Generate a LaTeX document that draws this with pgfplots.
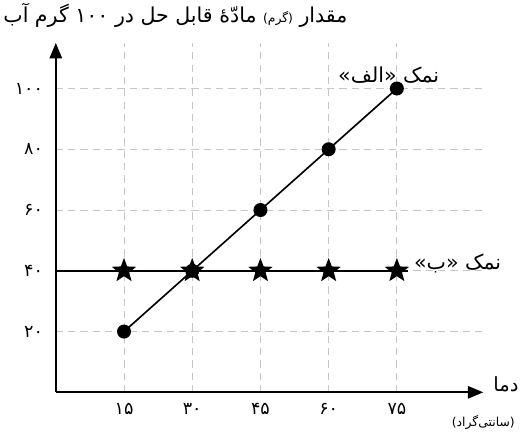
\documentclass[border=0pt]{standalone}
\usepackage{pgfplots}
\pgfplotsset{compat=1.18}
\usepackage{fontspec}
\usetikzlibrary{arrows.meta}
\TeXXeTstate=1
\newfontfamily\fa[Script=Arabic]{DejaVu Sans}

\pgfdeclareplotmark{fstar}{%
  \pgfpathmoveto{\pgfqpointpolar{90}{\pgfplotmarksize}}%
  \pgfpathlineto{\pgfqpointpolar{126}{0.42\pgfplotmarksize}}%
  \pgfpathlineto{\pgfqpointpolar{162}{\pgfplotmarksize}}%
  \pgfpathlineto{\pgfqpointpolar{198}{0.42\pgfplotmarksize}}%
  \pgfpathlineto{\pgfqpointpolar{234}{\pgfplotmarksize}}%
  \pgfpathlineto{\pgfqpointpolar{270}{0.42\pgfplotmarksize}}%
  \pgfpathlineto{\pgfqpointpolar{306}{\pgfplotmarksize}}%
  \pgfpathlineto{\pgfqpointpolar{342}{0.42\pgfplotmarksize}}%
  \pgfpathlineto{\pgfqpointpolar{18}{\pgfplotmarksize}}%
  \pgfpathlineto{\pgfqpointpolar{54}{0.42\pgfplotmarksize}}%
  \pgfpathclose\pgfusepathqfill}

\begin{document}
\begin{tikzpicture}
\begin{axis}[
    scale only axis,
    width=416pt, height=340pt,
    xmin=0, xmax=94, ymin=0, ymax=115,
    axis lines=left,
    axis line style={line width=1.8pt, -{Triangle[length=15pt,width=12pt]}},
    xtick={15,30,45,60,75},
    xticklabels={۱۵,۳۰,۴۵,۶۰,۷۵},
    ytick={20,40,60,80,100},
    yticklabels={۲۰,۴۰,۶۰,۸۰,۱۰۰},
    major tick length=0pt,
    ticklabel style={font=\fa\fontsize{17}{19}\selectfont},
    xticklabel shift=7pt,
    yticklabel shift=9pt,
    grid=major,
    grid style={gray!45, line width=0.9pt, dash pattern=on 7pt off 5pt},
    clip=false,
]
\addplot[black, line width=1.6pt, mark=*, mark size=6pt] coordinates {
    (15,20) (30,40) (45,60) (60,80) (75,100)
};
\addplot[black, line width=2.4pt] coordinates {(0,40) (77.5,40)};
\addplot[black, only marks, mark=fstar, mark size=12.5pt] coordinates {
    (15,40) (30,40) (45,40) (60,40) (75,40)
};
\node[font=\fa\fontsize{20}{22}\selectfont] at (axis cs:26.3,124)
  {\beginR مقدار {\fontsize{12}{13}\selectfont (گرم)} مادّهٔ قابل حل در \beginL ۱۰۰\endL{} گرم آب\endR};
\node[font=\fa\fontsize{19}{21}\selectfont] at (axis cs:99,2.5) {\beginR دما\endR};
\node[font=\fa\fontsize{12}{13}\selectfont] at (axis cs:94,-10) {\beginR (سانتی‌گراد)\endR};
\node[font=\fa\fontsize{20}{22}\selectfont] at (axis cs:73.2,104.5) {\beginR نمک «الف»\endR};
\node[font=\fa\fontsize{20}{22}\selectfont, anchor=west] at (axis cs:78,42.5) {\beginR نمک «ب»\endR};
\end{axis}
\end{tikzpicture}
\end{document}
